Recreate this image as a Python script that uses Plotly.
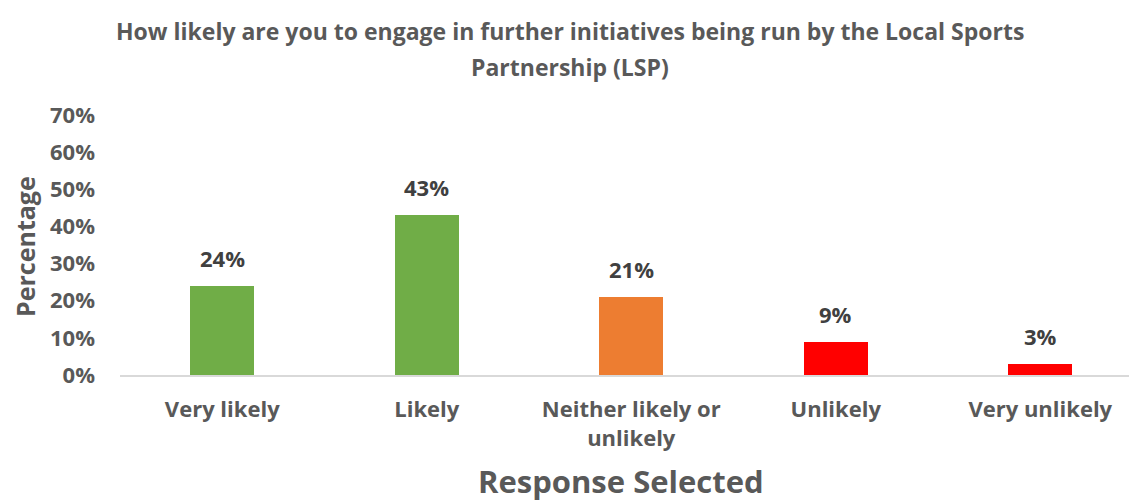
import plotly.graph_objects as go

categories = ["Very likely", "Likely", "Neither likely or<br>unlikely", "Unlikely", "Very unlikely"]
values = [24, 43, 21, 9, 3]
bar_colors = ["#70AD47", "#70AD47", "#ED7D31", "#FF0000", "#FF0000"]
y_ticks = [0, 10, 20, 30, 40, 50, 60, 70]
y_tick_labels = [f"{v}%" for v in y_ticks]
labels = [f"{v}%" for v in values]
title_lines = ["How likely are you to engage in further initiatives being run by the Local Sports",
               "Partnership (LSP)"]

FONT = "Open Sans"
GREY = "#595959"

L, T, B, W, H = 120, 115, 129, 1129, 504
PW = W - L
PH = H - T - B

def px_x(x):
    return (x - L) / PW

def px_y(y):
    return (H - B - y) / PH

fig = go.Figure()
fig.add_trace(go.Bar(
    x=list(range(len(categories))), y=values,
    marker=dict(color=bar_colors, line=dict(width=0)),
    width=0.315,
    hoverinfo="skip",
))

for i, (v, t) in enumerate(zip(values, labels)):
    fig.add_annotation(x=i, y=v, text=f"<b>{t}</b>", showarrow=False,
                       yshift=28, font=dict(family=FONT, size=22, color="#404040"))

fig.update_layout(
    width=W, height=H,
    margin=dict(l=L, r=0, t=T, b=B),
    paper_bgcolor="white", plot_bgcolor="white",
    showlegend=False,
    font=dict(family=FONT, color=GREY),
    bargap=0,
)
fig.update_xaxes(
    range=[-0.5, 4.434],
    tickmode="array", tickvals=list(range(len(categories))),
    ticktext=[f"<b>{c}</b>" for c in categories],
    tickfont=dict(family=FONT, size=22, color=GREY),
    showgrid=False, zeroline=False,
    showline=True, linecolor="#D9D9D9", linewidth=2,
    ticks="", ticklabelstandoff=14,
)
fig.update_yaxes(
    range=[0, 70],
    tickmode="array", tickvals=y_ticks,
    ticktext=[f"<b>{t}</b>" for t in y_tick_labels],
    tickfont=dict(family=FONT, size=22, color=GREY),
    showgrid=False, zeroline=False, showline=False,
    ticks="", ticklabelstandoff=24,
)

for line, yc in zip(title_lines, [31, 67]):
    fig.add_annotation(
        xref="paper", yref="paper", x=px_x(570), y=px_y(yc), yanchor="middle",
        text=f"<b>{line}</b>", showarrow=False,
        font=dict(family=FONT, size=23, color=GREY),
    )
fig.add_annotation(
    xref="paper", yref="paper", x=px_x(621), y=px_y(481), yanchor="middle",
    text="<b>Response Selected</b>", showarrow=False, borderpad=0,
    font=dict(family=FONT, size=31, color=GREY),
)
fig.add_annotation(
    xref="paper", yref="paper", x=px_x(25), y=px_y(247), xanchor="center",
    text="<b>Percentage</b>", showarrow=False, textangle=-90,
    font=dict(family=FONT, size=25, color=GREY),
)

fig.write_html("out.html")
